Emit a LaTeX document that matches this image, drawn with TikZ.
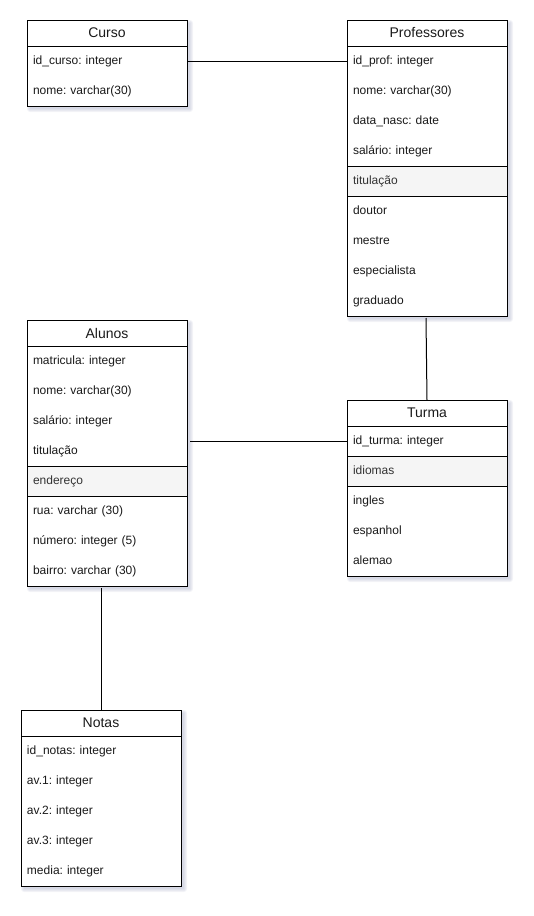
\documentclass[tikz,border=0pt]{standalone}
\usepackage{fontspec}
\setmainfont{Liberation Sans}
\usetikzlibrary{calc}
\frenchspacing

\definecolor{ink}{HTML}{1A1A1A}
\definecolor{bandfill}{HTML}{F5F5F5}
\definecolor{bandink}{HTML}{333333}
\definecolor{shade}{RGB}{140,145,180}

\tikzset{
  header/.style={draw=black, line width=1pt, fill=white, minimum width=160pt,
    minimum height=26pt, inner sep=0pt, outer sep=0pt, anchor=north west,
    font=\fontsize{14}{16}\selectfont, text=ink},
  field/.style={minimum width=160pt, minimum height=30pt, text width=148pt,
    align=left, inner sep=0pt, outer sep=0pt, anchor=north west,
    text height=9pt, text depth=3pt, font=\fontsize{12}{14}\selectfont, text=ink},
  groupfield/.style={field, draw=black, line width=1pt, fill=bandfill, text=bandink},
  outline/.style={draw=black, line width=1pt},
  link/.style={draw=black, line width=1pt},
  softshadow/.style={fill=shade, opacity=0.1},
}

% #1 name, #2 left x, #3 top y, #4 title, #5 index of the grey group row (0 = none), #6 fields
\newcommand\entitybox[6]{%
  \foreach \f [count=\i] in {#6} {\xdef\nrows{\i}}%
  \pgfmathsetmacro\boxh{26+30*\nrows}%
  \foreach \e in {0,1,2,3} {
    \fill[softshadow, rounded corners=\e pt]
      ({#2+3-\e},{#3+3-\e}) rectangle ({#2+163+\e},{#3+3+\boxh+\e});
  }
  \fill[white] (#2,#3) rectangle ({#2+160},{#3+\boxh});
  \node[header] (#1) at (#2,#3) {#4};
  \foreach \f [count=\i] in {#6} {
    \ifnum\i=#5
      \node[groupfield] (#1-\i) at (#2,{#3+26+30*(\i-1)}) {\f};
    \else
      \node[field] (#1-\i) at (#2,{#3+26+30*(\i-1)}) {\f};
    \fi
  }
  \draw[outline] (#1.north west) rectangle (#1-\nrows.south east);
}

\begin{document}
\begin{tikzpicture}[x=1pt, y=-1pt]
  \useasboundingbox (0,0) rectangle (534,916);

  \entitybox{curso}{27}{20}{Curso}{0}%
    {id\_curso: integer, nome: varchar(30)}
  \entitybox{prof}{347}{20}{Professores}{5}%
    {id\_prof: integer, nome: varchar(30), data\_nasc: date, salário: integer,
     titulação, doutor, mestre, especialista, graduado}
  \entitybox{alunos}{27}{320}{Alunos}{5}%
    {matricula: integer, nome: varchar(30), salário: integer, titulação,
     endereço, rua: varchar (30), número: integer (5), bairro: varchar (30)}
  \entitybox{turma}{347}{400}{Turma}{2}%
    {id\_turma: integer, idiomas, ingles, espanhol, alemao}
  \entitybox{notas}{21}{710}{Notas}{0}%
    {id\_notas: integer, av.1: integer, av.2: integer, av.3: integer, media: integer}

  % relationships
  \coordinate (alunosjoin) at ($(alunos-4.east |- turma-1.west)+(3,0)$);
  \coordinate (notasjoin) at ($(notas.north |- alunos-8.south)+(0,2)$);
  \coordinate (profjoin) at ($(prof-9.south)+(-1,2)$);

  \draw[link] (curso-1.east) -- (prof-1.west);
  \draw[link] (profjoin) -- (turma.north);
  \draw[link] (alunosjoin) -- (turma-1.west);
  \draw[link] (notasjoin) -- (notas.north);
\end{tikzpicture}
\end{document}
